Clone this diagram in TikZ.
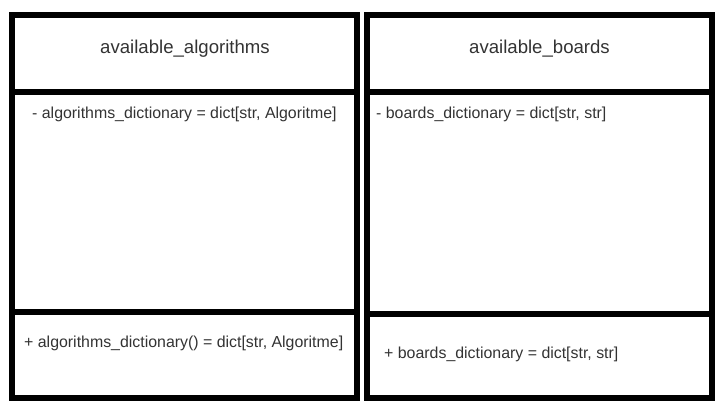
\documentclass[tikz,border=0pt]{standalone}
\usepackage{fontspec}
\setmainfont{Liberation Sans}
\definecolor{txt}{HTML}{333333}
\begin{document}
\begin{tikzpicture}[x=1pt,y=-1pt,
  frame/.style={draw=black,line width=6pt},
  title/.style={inner sep=0pt,anchor=base,text=txt,font=\fontsize{18.6}{22}\selectfont},
  member/.style={inner sep=0pt,anchor=base west,text=txt,font=\fontsize{15.9}{18}\selectfont}]
\useasboundingbox (0,0) rectangle (720,404);
% left class
\draw[frame] (12,15.5) rectangle (357,397.5);
\draw[frame] (12,91.5) -- (357,91.5);
\draw[frame] (12,311.5) -- (357,311.5);
% right class
\draw[frame] (366.5,15.5) rectangle (711.5,397.5);
\draw[frame] (366.5,91.5) -- (711.5,91.5);
\draw[frame] (366.5,313.5) -- (711.5,313.5);
% texts
\node[title] (t1) at (185,54) {available\_algorithms};
\node[title] (t2) at (539.5,54) {available\_boards};
\node[member] (a1) at (32,118.5) {- algorithms\_dictionary = dict[str, Algoritme]};
\node[member] (a2) at (376,118.5) {- boards\_dictionary = dict[str, str]};
\node[member] (m1) at (24,347) {+ algorithms\_dictionary() = dict[str, Algoritme]};
\node[member] (m2) at (384,358) {+ boards\_dictionary = dict[str, str]};
\end{tikzpicture}
\end{document}
